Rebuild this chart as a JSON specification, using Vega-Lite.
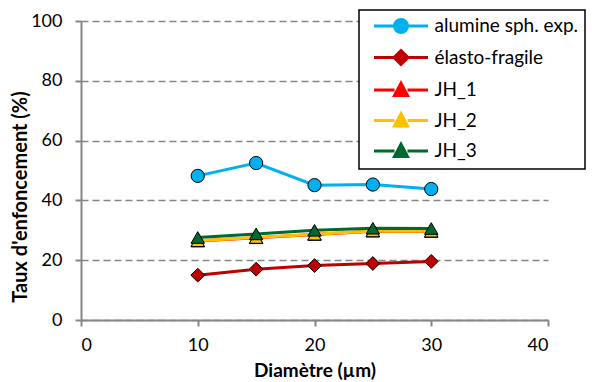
{
  "$schema": "https://vega.github.io/schema/vega-lite/v6.json",
  "width": 467,
  "height": 299,
  "autosize": {"type": "none"},
  "padding": {"left": 81, "top": 21, "right": 44, "bottom": 62},
  "background": "white",
  "config": {
    "font": "Lato",
    "view": {"stroke": null},
    "axis": {
      "domainColor": "#868686",
      "domainWidth": 2,
      "tickColor": "#868686",
      "tickWidth": 2,
      "tickSize": 6,
      "labelFont": "Lato",
      "labelFontSize": 18,
      "labelColor": "#000000",
      "titleFont": "Lato",
      "titleFontWeight": "bold",
      "titleColor": "#000000"
    }
  },
  "data": {
    "values": [
      {"d": 10, "v": 48.2, "s": "alumine sph. exp."},
      {"d": 15, "v": 52.5, "s": "alumine sph. exp."},
      {"d": 20, "v": 45.1, "s": "alumine sph. exp."},
      {"d": 25, "v": 45.3, "s": "alumine sph. exp."},
      {"d": 30, "v": 43.8, "s": "alumine sph. exp."},
      {"d": 10, "v": 15.0, "s": "élasto-fragile"},
      {"d": 15, "v": 17.0, "s": "élasto-fragile"},
      {"d": 20, "v": 18.2, "s": "élasto-fragile"},
      {"d": 25, "v": 18.9, "s": "élasto-fragile"},
      {"d": 30, "v": 19.6, "s": "élasto-fragile"},
      {"d": 10, "v": 26.4, "s": "JH_1"},
      {"d": 15, "v": 27.5, "s": "JH_1"},
      {"d": 20, "v": 28.6, "s": "JH_1"},
      {"d": 25, "v": 29.7, "s": "JH_1"},
      {"d": 30, "v": 29.6, "s": "JH_1"},
      {"d": 10, "v": 26.5, "s": "JH_2"},
      {"d": 15, "v": 27.6, "s": "JH_2"},
      {"d": 20, "v": 28.7, "s": "JH_2"},
      {"d": 25, "v": 29.8, "s": "JH_2"},
      {"d": 30, "v": 29.7, "s": "JH_2"},
      {"d": 10, "v": 27.6, "s": "JH_3"},
      {"d": 15, "v": 28.8, "s": "JH_3"},
      {"d": 20, "v": 30.0, "s": "JH_3"},
      {"d": 25, "v": 30.7, "s": "JH_3"},
      {"d": 30, "v": 30.6, "s": "JH_3"}
    ]
  },
  "encoding": {
    "x": {
      "field": "d", "type": "quantitative", "title": "Diamètre (µm)",
      "scale": {"domain": [0, 40], "nice": false},
      "axis": {"values": [0, 10, 20, 30, 40], "grid": false, "labelPadding": 10, "titlePadding": 7, "titleFontSize": 19}
    },
    "y": {
      "field": "v", "type": "quantitative", "title": "Taux d'enfoncement (%)",
      "scale": {"domain": [0, 100], "nice": false},
      "axis": {"values": [0, 20, 40, 60, 80, 100], "grid": true, "gridColor": "#868686", "gridDash": [7, 4], "gridWidth": 1.5, "labelPadding": 13, "titlePadding": 0, "titleFontSize": 20, "titleY": 175.5}
    }
  },
  "layer": [
    {
      "mark": {"type": "line", "strokeWidth": 3},
      "encoding": {
        "color": {
          "field": "s", "type": "nominal",
          "scale": {
            "domain": ["alumine sph. exp.", "élasto-fragile", "JH_1", "JH_2", "JH_3"],
            "range": ["#00B0F0", "#C00000", "#FF0000", "#FFC000", "#00692F"]
          },
          "legend": {
            "title": null,
            "orient": "none",
            "legendX": 278,
            "legendY": -11,
            "strokeColor": "#000000",
            "fillColor": "#FFFFFF",
            "padding": 6.5,
            "symbolSize": 100,
            "symbolStrokeWidth": 3,
            "rowPadding": 5.5,
            "labelFontSize": 19,
            "labelFont": "Lato",
            "labelColor": "#000000",
            "labelOffset": 50,
            "encode": {
              "legend": {"update": {"strokeWidth": {"value": 1.5}}},
              "symbols": {
                "update": {
                  "size": {"value": 100},
                  "x": {"value": 35.5},
                  "strokeWidth": {"value": 3},
                  "stroke": {"signal": "scale('color', datum.value)"},
                  "fill": {"signal": "scale('color', datum.value)"},
                  "shape": {"signal": "datum.value == 'alumine sph. exp.' ? 'M-5.4,0H-1.3M1.3,0H5.4M-1.3,0A1.3,1.3 0 1,0 1.3,0A1.3,1.3 0 1,0 -1.3,0Z' : datum.value == 'élasto-fragile' ? 'M-5.4,0H-1.4M1.4,0H5.4M-1.4,0L0,-1.4L1.4,0L0,1.4Z' : 'M-5.4,0H-1.3M1.3,0H5.4M-1.3,1.1L0,-1.35L1.3,1.1Z'"}
                }
              }
            }
          }
        }
      }
    },
    {
      "transform": [{"filter": "datum.s == 'alumine sph. exp.'"}],
      "mark": {"type": "point", "shape": "circle", "filled": true, "stroke": "#000000", "strokeWidth": 1, "opacity": 1, "size": 175},
      "encoding": {
        "fill": {
          "field": "s", "type": "nominal", "legend": null,
          "scale": {
            "domain": ["alumine sph. exp.", "élasto-fragile", "JH_1", "JH_2", "JH_3"],
            "range": ["#00B0F0", "#C00000", "#FF0000", "#FFC000", "#00692F"]
          }
        }
      }
    },
    {
      "transform": [{"filter": "datum.s == 'élasto-fragile'"}],
      "mark": {"type": "point", "shape": "diamond", "filled": true, "stroke": "#000000", "strokeWidth": 1, "opacity": 1, "size": 190},
      "encoding": {
        "fill": {"field": "s", "type": "nominal", "legend": null}
      }
    },
    {
      "transform": [{"filter": "datum.s == 'JH_1' || datum.s == 'JH_2' || datum.s == 'JH_3'"}],
      "mark": {"type": "point", "shape": "triangle-up", "filled": true, "stroke": "#000000", "strokeWidth": 1, "opacity": 1, "size": 180},
      "encoding": {
        "fill": {"field": "s", "type": "nominal", "legend": null}
      }
    }
  ]
}
